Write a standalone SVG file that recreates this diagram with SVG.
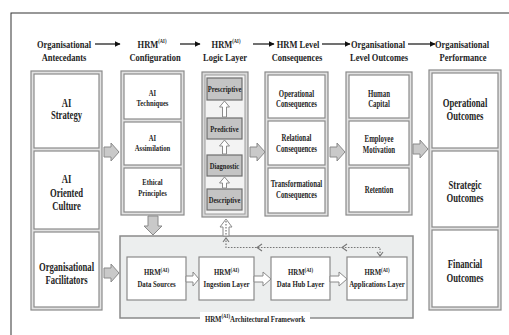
<svg xmlns="http://www.w3.org/2000/svg" width="509" height="335" viewBox="0 0 509 335">
  <defs>
    <marker id="head" viewBox="0 0 10 10" refX="9" refY="5" markerWidth="6" markerHeight="6" orient="auto" markerUnits="userSpaceOnUse">
      <path d="M0,0 L10,5 L0,10 Z" fill="#111"/>
    </marker>
    <marker id="open" viewBox="0 0 10 10" refX="2" refY="5" markerWidth="6" markerHeight="8" orient="auto" markerUnits="userSpaceOnUse">
      <path d="M8,1 L2,5 L8,9" fill="none" stroke="#777" stroke-width="1.2"/>
    </marker>
  </defs>
  <style>
    .t { font-family: "Liberation Serif", "Times New Roman", serif; font-weight: bold; fill: #1e1e1e; text-anchor: middle; }
    .h { font-size: 11px; }
    .big { font-size: 12px; }
    .mid { font-size: 9.5px; }
    .sm { font-size: 9px; }
    .fw { font-size: 8.5px; }
    .sup { font-size: 6px; }
    .frame { fill: #e2e2e2; stroke: #8a8a8a; stroke-width: 1.2; }
    .cell { fill: #ffffff; stroke: #8a8a8a; stroke-width: 1.2; }
    .logic { fill: #c4c4c4; stroke: #6e6e6e; stroke-width: 1.2; }
    .block { fill: #c9c9c9; stroke: #8a8a8a; stroke-width: 1; }
    .hollow { fill: #ffffff; stroke: #8a8a8a; stroke-width: 1; }
    .hdr { stroke: #111; stroke-width: 1.2; fill: none; }
    .dot { stroke: #777; stroke-width: 1.2; fill: none; stroke-dasharray: 1.6 1.4; }
  </style>

  <!-- page frame -->
  <rect x="11" y="13" width="520" height="340" fill="#ffffff" stroke="#333" stroke-width="1"/>

  <!-- column headings -->
  <g id="headings">
    <text class="t h" transform="matrix(0.77 0 0 1 64 47.5)">Organisational</text>
    <text class="t h" transform="matrix(0.77 0 0 1 64 60.5)">Antecedants</text>
    <text class="t h" transform="matrix(0.77 0 0 1 152 47.5)">HRM<tspan class="sup" dy="-4.5">(AI)</tspan></text>
    <text class="t h" transform="matrix(0.77 0 0 1 155 60.5)">Configuration</text>
    <text class="t h" transform="matrix(0.77 0 0 1 226 47.5)">HRM<tspan class="sup" dy="-4.5">(AI)</tspan></text>
    <text class="t h" transform="matrix(0.77 0 0 1 225 60.5)">Logic Layer</text>
    <text class="t h" transform="matrix(0.77 0 0 1 298 47.5)">HRM Level</text>
    <text class="t h" transform="matrix(0.77 0 0 1 297 60.5)">Consequences</text>
    <text class="t h" transform="matrix(0.77 0 0 1 378 47.5)">Organisational</text>
    <text class="t h" transform="matrix(0.77 0 0 1 379 60.5)">Level Outcomes</text>
    <text class="t h" transform="matrix(0.77 0 0 1 462 47.5)">Organisational</text>
    <text class="t h" transform="matrix(0.77 0 0 1 463 60.5)">Performance</text>
  </g>

  <!-- Organisational Antecedants -->
  <g id="antecedants">
    <rect class="frame" x="31" y="71" width="71" height="239"/>
    <rect class="cell" x="34" y="74" width="65" height="74"/>
    <rect class="cell" x="34" y="151" width="65" height="78"/>
    <rect class="cell" x="34" y="232" width="65" height="75"/>
    <text class="t big" transform="matrix(0.72 0 0 1 66.5 107)">AI</text>
    <text class="t big" transform="matrix(0.72 0 0 1 66.5 119)">Strategy</text>
    <text class="t big" transform="matrix(0.72 0 0 1 66.5 183)">AI</text>
    <text class="t big" transform="matrix(0.72 0 0 1 66.5 196.5)">Oriented</text>
    <text class="t big" transform="matrix(0.72 0 0 1 66.5 210)">Culture</text>
    <text class="t big" transform="matrix(0.72 0 0 1 66.5 271)">Organisational</text>
    <text class="t big" transform="matrix(0.72 0 0 1 66.5 284)">Facilitators</text>
  </g>

  <!-- HRM(AI) Configuration -->
  <g id="configuration">
    <rect class="frame" x="121" y="71" width="63" height="144"/>
    <rect class="cell" x="124" y="74" width="57" height="45"/>
    <rect class="cell" x="124" y="122" width="57" height="43"/>
    <rect class="cell" x="124" y="168" width="57" height="44"/>
    <text class="t sm" transform="matrix(0.74 0 0 1 152.5 96)">AI</text>
    <text class="t sm" transform="matrix(0.74 0 0 1 152.5 106)">Techniques</text>
    <text class="t sm" transform="matrix(0.74 0 0 1 152.5 141)">AI</text>
    <text class="t sm" transform="matrix(0.74 0 0 1 152.5 151)">Assimilation</text>
    <text class="t sm" transform="matrix(0.74 0 0 1 152.5 185)">Ethical</text>
    <text class="t sm" transform="matrix(0.74 0 0 1 152.5 196)">Principles</text>
  </g>

  <!-- HRM(AI) Logic Layer -->
  <g id="logic-layer">
    <rect x="202" y="72" width="46" height="145" fill="#dadada" stroke="#8a8a8a" stroke-width="1.2"/>
    <rect x="205" y="75" width="40" height="139" fill="#f3f3f3" stroke="#9a9a9a" stroke-width="1"/>
    <rect class="logic" x="207" y="78" width="35" height="22"/>
    <rect class="logic" x="207" y="118" width="35" height="21"/>
    <rect class="logic" x="207" y="155" width="35" height="21"/>
    <rect class="logic" x="207" y="189" width="35" height="21"/>
    <polygon class="hollow" points="222.5,117 226.5,117 226.5,107 229.5,107 224.5,101 219.5,107 222.5,107"/>
    <polygon class="hollow" points="222.5,154 226.5,154 226.5,146 229.5,146 224.5,140 219.5,146 222.5,146"/>
    <polygon class="hollow" points="222.5,188 226.5,188 226.5,183 229.5,183 224.5,177 219.5,183 222.5,183"/>
    <text class="t sm" transform="matrix(0.73 0 0 1 224.5 92)">Prescriptive</text>
    <text class="t sm" transform="matrix(0.73 0 0 1 224.5 131.5)">Predictive</text>
    <text class="t sm" transform="matrix(0.73 0 0 1 224.5 168.5)">Diagnostic</text>
    <text class="t sm" transform="matrix(0.73 0 0 1 224.5 202.5)">Descriptive</text>
  </g>

  <!-- HRM Level Consequences -->
  <g id="consequences">
    <rect class="frame" x="265" y="72" width="63" height="144"/>
    <rect class="cell" x="268" y="75" width="57" height="43"/>
    <rect class="cell" x="268" y="121" width="57" height="44"/>
    <rect class="cell" x="268" y="168" width="57" height="45"/>
    <text class="t mid" transform="matrix(0.72 0 0 1 296.5 96.5)">Operational</text>
    <text class="t mid" transform="matrix(0.72 0 0 1 296.5 107)">Consequences</text>
    <text class="t mid" transform="matrix(0.72 0 0 1 296.5 141)">Relational</text>
    <text class="t mid" transform="matrix(0.72 0 0 1 296.5 151.5)">Consequences</text>
    <text class="t mid" transform="matrix(0.72 0 0 1 296.5 186.5)">Transformational</text>
    <text class="t mid" transform="matrix(0.72 0 0 1 296.5 197.5)">Consequences</text>
  </g>

  <!-- Organisational Level Outcomes -->
  <g id="level-outcomes">
    <rect class="frame" x="346" y="72" width="66" height="143"/>
    <rect class="cell" x="349" y="75" width="60" height="43"/>
    <rect class="cell" x="349" y="121" width="60" height="44"/>
    <rect class="cell" x="349" y="168" width="60" height="44"/>
    <text class="t mid" transform="matrix(0.72 0 0 1 379 96.5)">Human</text>
    <text class="t mid" transform="matrix(0.72 0 0 1 379 107)">Capital</text>
    <text class="t mid" transform="matrix(0.72 0 0 1 379 142)">Employee</text>
    <text class="t mid" transform="matrix(0.72 0 0 1 379 152.5)">Motivation</text>
    <text class="t mid" transform="matrix(0.72 0 0 1 379 192.5)">Retention</text>
  </g>

  <!-- Organisational Performance -->
  <g id="performance">
    <rect class="frame" x="429" y="70" width="72" height="240"/>
    <rect class="cell" x="432" y="73" width="66" height="75"/>
    <rect class="cell" x="432" y="151" width="66" height="76"/>
    <rect class="cell" x="432" y="230" width="66" height="77"/>
    <text class="t big" transform="matrix(0.72 0 0 1 465 107)">Operational</text>
    <text class="t big" transform="matrix(0.72 0 0 1 465 119.5)">Outcomes</text>
    <text class="t big" transform="matrix(0.72 0 0 1 465 188.5)">Strategic</text>
    <text class="t big" transform="matrix(0.72 0 0 1 465 202)">Outcomes</text>
    <text class="t big" transform="matrix(0.72 0 0 1 465 268)">Financial</text>
    <text class="t big" transform="matrix(0.72 0 0 1 465 282)">Outcomes</text>
  </g>

  <!-- HRM(AI) Architectural Framework -->
  <g id="framework">
    <rect x="120" y="236" width="293" height="82" fill="#eceeee" stroke="#8a8a8a" stroke-width="1.5"/>
    <rect x="200" y="312" width="110" height="14" fill="#ffffff"/>
    <text class="t fw" transform="matrix(0.8 0 0 1 255 321.5)">HRM<tspan class="sup" font-size="5" dy="-3.5">(AI)</tspan><tspan dy="3.5">Architectural Framework</tspan></text>
  </g>
  <g id="data-sources">
    <rect class="cell" x="127" y="257" width="59" height="43"/>
    <text class="t fw" transform="matrix(0.8 0 0 1 156.5 275)">HRM<tspan class="sup" font-size="5.5" dy="-3.5">(AI)</tspan></text>
    <text class="t fw" transform="matrix(0.8 0 0 1 156.5 287)">Data Sources</text>
  </g>
  <g id="ingestion-layer">
    <rect class="cell" x="199" y="257" width="55" height="43"/>
    <text class="t fw" transform="matrix(0.8 0 0 1 226.5 275)">HRM<tspan class="sup" font-size="5.5" dy="-3.5">(AI)</tspan></text>
    <text class="t fw" transform="matrix(0.8 0 0 1 226.5 287)">Ingestion Layer</text>
  </g>
  <g id="data-hub-layer">
    <rect class="cell" x="271" y="257" width="59" height="43"/>
    <text class="t fw" transform="matrix(0.8 0 0 1 300.5 275)">HRM<tspan class="sup" font-size="5.5" dy="-3.5">(AI)</tspan></text>
    <text class="t fw" transform="matrix(0.8 0 0 1 300.5 287)">Data Hub Layer</text>
  </g>
  <g id="applications-layer">
    <rect class="cell" x="347" y="257" width="60" height="43"/>
    <text class="t fw" transform="matrix(0.8 0 0 1 377 275)">HRM<tspan class="sup" font-size="5.5" dy="-3.5">(AI)</tspan></text>
    <text class="t fw" transform="matrix(0.8 0 0 1 377 287)">Applications Layer</text>
  </g>

  <!-- connectors -->
  <g id="connectors">
    <!-- heading arrows -->
    <line class="hdr" x1="95" y1="44" x2="120" y2="44" marker-end="url(#head)"/>
    <line class="hdr" x1="180" y1="44" x2="200" y2="44" marker-end="url(#head)"/>
    <line class="hdr" x1="253" y1="44" x2="274" y2="44" marker-end="url(#head)"/>
    <line class="hdr" x1="322" y1="44" x2="350" y2="44" marker-end="url(#head)"/>
    <line class="hdr" x1="408" y1="44" x2="435" y2="44" marker-end="url(#head)"/>

    <!-- block arrows between columns -->
    <polygon class="block" points="104,147 111,147 111,143 119,152 111,161 111,157 104,157"/>
    <polygon class="block" points="250,147 257,147 257,143 265,152 257,161 257,157 250,157"/>
    <polygon class="block" points="330,147 337,147 337,143 345,152 337,161 337,157 330,157"/>
    <polygon class="block" points="413,144 420,144 420,140 428,149 420,158 420,154 413,154"/>
    <polygon class="block" points="104,268 111,268 111,264 119,273 111,282 111,278 104,278"/>
    <polygon class="block" points="148,216 158,216 158,226 162,226 153,235 144,226 148,226"/>

    <!-- hollow arrows inside the framework -->
    <polygon class="hollow" points="186,276 193,276 193,272 199,279 193,286 193,282 186,282"/>
    <polygon class="hollow" points="254,276 263,276 263,272 271,279 263,286 263,282 254,282"/>
    <polygon class="hollow" points="330,276 339,276 339,272 347,279 339,286 339,282 330,282"/>

    <!-- feedback loop from applications back to the logic layer -->
    <polygon class="hollow" points="223,236 229,236 229,227 232,227 226,219 220,227 223,227"/>
    <line class="dot" x1="226" y1="221" x2="226" y2="236"/>
    <path class="dot" d="M380,256 L380,247.5 L226,247.5 L226,239"/>
    <path d="M223,242 L226,238 L229,242" fill="none" stroke="#777" stroke-width="1.1"/>
    <path d="M377,252 L380,256 L383,252" fill="none" stroke="#777" stroke-width="1.1"/>
    <path d="M347,244 L342,247.5 L347,251" fill="none" stroke="#777" stroke-width="1.1"/>
    <path d="M262,244 L257,247.5 L262,251" fill="none" stroke="#777" stroke-width="1.1"/>
  </g>
</svg>
